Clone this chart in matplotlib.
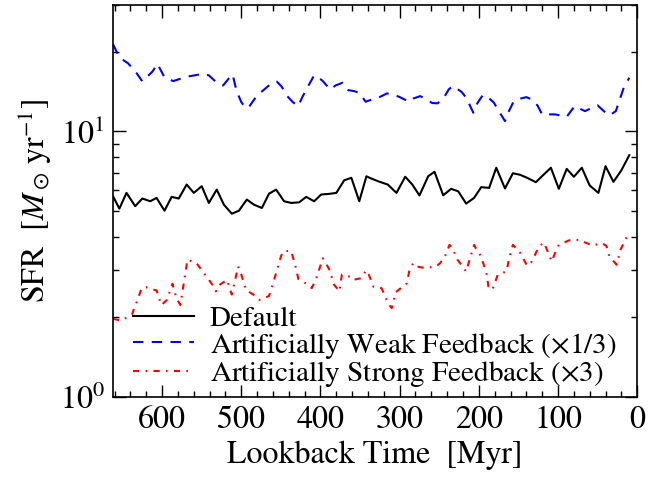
import matplotlib
matplotlib.use("Agg")
import matplotlib.pyplot as plt

plt.rcParams['font.family'] = 'STIXGeneral'
plt.rcParams['mathtext.fontset'] = 'stix'

# Default run
t_default = [662, 654, 645, 634, 625, 615, 607, 597, 588, 579, 569, 560, 550, 541,
             531, 522, 512, 503, 493, 484, 474, 465, 456, 446, 437, 427, 418, 408,
             399, 389, 380, 370, 361, 351, 342, 338, 327, 315, 304, 293, 284, 275,
             264, 256, 245, 235, 226, 216, 206, 197, 187, 178, 167, 157, 148, 139,
             128, 119, 109, 99, 89, 80, 70, 60, 49, 40, 30, 20, 10]
sfr_default = [5.70, 5.12, 5.87, 5.23, 5.59, 5.46, 5.62, 5.03, 5.67, 5.59, 6.31, 5.87,
               6.22, 5.38, 6.04, 5.30, 4.90, 5.03, 5.54, 5.30, 5.15, 5.83, 6.04, 5.46,
               5.38, 5.41, 5.67, 5.46, 5.79, 5.82, 5.87, 6.55, 6.69, 5.46, 6.78, 6.69,
               6.49, 6.31, 5.87, 6.75, 6.31, 5.74, 6.78, 7.05, 5.75, 6.08, 5.95, 5.35,
               5.62, 6.17, 6.13, 7.30, 6.10, 6.96, 6.87, 6.69, 6.44, 6.84, 7.30, 6.08,
               7.23, 6.75, 7.30, 6.26, 5.87, 7.40, 6.46, 7.14, 8.14]

# Weak feedback run
t_weak = [662, 654, 643, 632, 625, 612, 606, 597, 586, 577, 569, 557, 548, 541,
          531, 523, 516, 511, 506, 500, 495, 491, 483, 477, 471, 460, 455, 449,
          442, 435, 428, 423, 415, 408, 403, 397, 388, 381, 372, 365, 358, 351,
          343, 335, 327, 316, 309, 301, 288, 283, 274, 266, 259, 252, 243, 238,
          233, 222, 216, 213, 207, 202, 195, 189, 181, 174, 167, 162, 157, 152,
          140, 133, 126, 120, 112, 103, 89, 84, 79, 66, 59, 50, 40, 35, 27, 22,
          17, 10]
sfr_weak = [21.3, 19.0, 18.06, 16.55, 15.44, 16.84, 17.99, 15.99, 15.48, 15.8, 16.08,
            16.31, 16.5, 16.27, 15.27, 14.9, 15.81, 16.41, 14.20, 12.90, 12.3, 12.29,
            13.29, 13.9, 14.40, 15.35, 15.4, 14.75, 13.59, 12.9, 12.46, 13.47, 14.92,
            16.27, 16.0, 15.48, 14.40, 14.9, 15.27, 14.31, 14.2, 14.0, 12.94, 13.2,
            13.40, 13.91, 13.8, 13.52, 12.94, 13.3, 13.59, 13.20, 12.8, 12.76, 13.59,
            14.4, 14.83, 14.12, 13.4, 12.84, 11.77, 12.76, 13.71, 13.5, 12.84, 11.83,
            10.94, 11.93, 12.8, 13.20, 13.47, 13.2, 12.54, 11.59, 11.6, 11.59, 11.36,
            11.9, 12.46, 11.93, 12.2, 12.54, 11.77, 11.5, 11.93, 13.20, 14.62, 15.94]

# Strong feedback run
t_strong = [662, 652, 638, 636, 631, 626, 620, 614, 607, 601, 594, 587, 582, 577,
            574, 568, 557, 552, 544, 535, 532, 527, 518, 512, 504, 500, 494, 481,
            477, 465, 458, 450, 447, 437, 431, 428, 416, 411, 406, 397, 389, 383,
            376, 373, 363, 359, 349, 342, 339, 333, 323, 320, 315, 310, 305, 291,
            288, 283, 279, 268, 254, 249, 242, 237, 233, 227, 216, 211, 206, 204,
            197, 190, 188, 183, 176, 165, 162, 157, 149, 139, 133, 127, 123, 118,
            112, 108, 102, 99, 86, 72, 66, 56, 45, 39, 35, 26, 21, 14, 9]
sfr_strong = [1.97, 1.94, 2.04, 2.13, 2.32, 2.57, 2.59, 2.55, 2.52, 2.22, 2.32, 2.67,
              2.36, 2.22, 2.53, 3.29, 3.20, 3.06, 2.84, 2.61, 2.50, 2.65, 2.76, 2.43,
              3.10, 2.89, 2.53, 2.39, 2.32, 2.40, 2.80, 3.38, 3.54, 3.55, 3.06, 2.78,
              2.65, 2.57, 2.76, 3.33, 3.03, 2.65, 2.50, 2.89, 2.84, 2.76, 2.80, 3.0,
              2.89, 2.60, 2.57, 2.46, 2.26, 2.16, 2.48, 2.68, 2.97, 3.19, 3.10, 3.06,
              3.10, 3.19, 3.43, 3.74, 3.61, 3.29, 2.97, 3.34, 3.74, 3.64, 3.38, 2.89,
              2.61, 2.53, 2.89, 2.97, 3.31, 3.74, 3.54, 3.12, 3.24, 3.54, 3.71, 3.82,
              3.48, 3.24, 3.59, 3.74, 3.89, 3.91, 3.82, 3.72, 3.80, 3.71, 3.38, 3.15,
              3.59, 3.97, 4.08]

fig = plt.figure(figsize=(6.61, 4.8), dpi=100)
ax = fig.add_axes([0.171, 0.173, 0.793, 0.817])

ax.plot(t_default, sfr_default, color='black', lw=1.5, label='Default')
ax.plot(t_weak, sfr_weak, color='blue', lw=1.5, dashes=(5, 4),
        label=r'Artificially Weak Feedback $(\times 1/3)$')
ax.plot(t_strong, sfr_strong, color='red', lw=1.5, dashes=(3, 3, 0.8, 3),
        label=r'Artificially Strong Feedback $(\times 3)$')

ax.set_yscale('log')
ax.set_xlim(662, 0)
ax.set_ylim(1, 30)
ax.set_xticks([600, 500, 400, 300, 200, 100, 0])
ax.set_xticks(range(0, 661, 20), minor=True)

ax.tick_params(which='both', direction='in', top=True, right=True, labelsize=23, width=1)
ax.tick_params(which='major', length=9, pad=6)
ax.tick_params(which='minor', length=4.5)
for s in ax.spines.values():
    s.set_linewidth(1.2)

ax.set_xlabel('Lookback Time  [Myr]', fontsize=23, labelpad=4)
ax.set_ylabel(r'SFR  $[M_\odot\,{\rm yr}^{-1}]$', fontsize=23, labelpad=4)

ax.legend(loc='lower left', frameon=False, fontsize=21, handlelength=2.1,
          handletextpad=0.55, labelspacing=-0.05, borderaxespad=0.0,
          bbox_to_anchor=(0.015, -0.01))

fig.savefig('out.png', dpi=100)
